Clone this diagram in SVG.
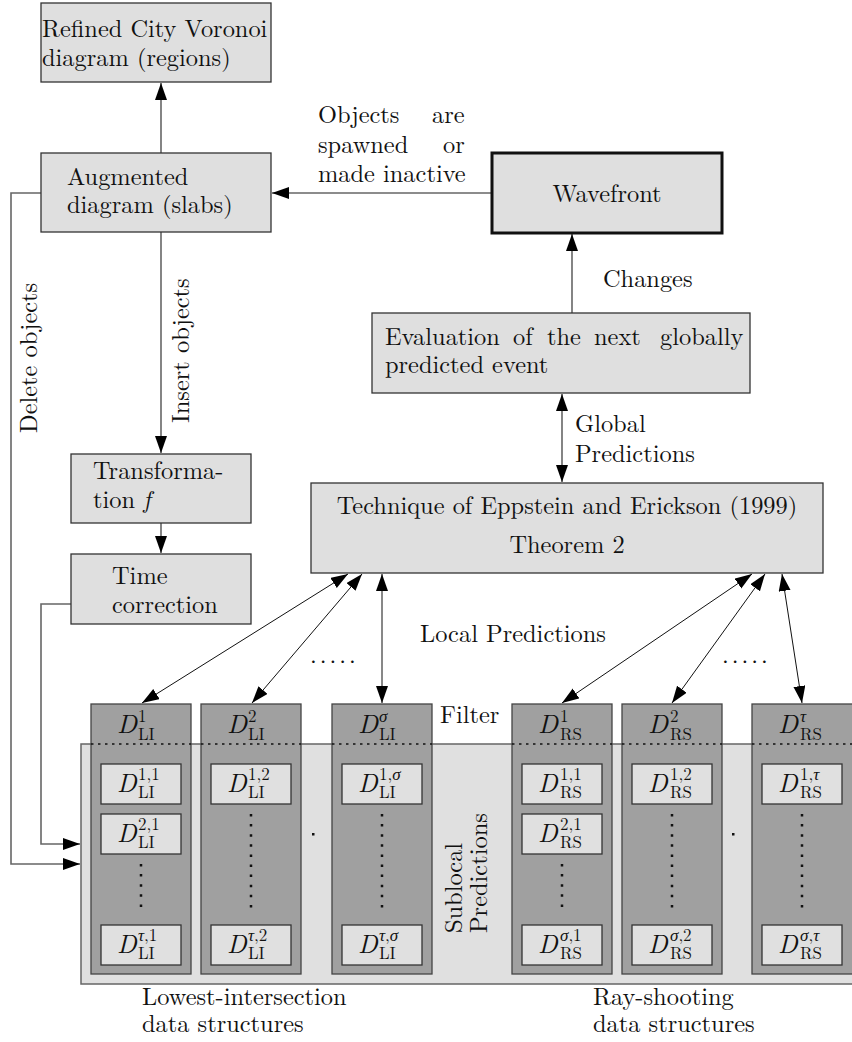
<svg xmlns="http://www.w3.org/2000/svg" width="852" height="1042" viewBox="0 0 852 1042" font-family="'CMU Serif', 'Latin Modern Roman', 'Liberation Serif', 'Times New Roman', Tinos, 'Noto Serif', 'Nimbus Roman', FreeSerif, 'DejaVu Serif', serif">
<defs>
<style>
text{font-family:"CMU Serif","Latin Modern Roman","Liberation Serif","Times New Roman",Tinos,"Noto Serif","Nimbus Roman",FreeSerif,"DejaVu Serif",serif;fill:#111;font-size:24.4px;}
.box{fill:#dfdfdf;stroke:#333;stroke-width:1.3;}
.thick{fill:#dfdfdf;stroke:#111;stroke-width:3;}
.col{fill:#a0a0a0;stroke:#444;stroke-width:1.3;}
.ib{fill:#e0e0e0;stroke:#333;stroke-width:1.3;}
.big{fill:#e0e0e0;stroke:#666;stroke-width:1.5;}
.c{fill:none;stroke:#666;stroke-width:1.6;}
.p{fill:none;stroke:#111;stroke-width:1;}
.dD{font-size:26.5px;font-style:italic;}
.iD{font-size:26px;font-style:italic;}
.s{font-size:17px;}
.g{font-style:italic;}
.vd{stroke:#111;stroke-width:2.5;stroke-dasharray:2.5,7.6;}
.hd{stroke:#111;stroke-width:1.3;stroke-dasharray:2.5,4.5;}
</style>
<marker id="a" markerUnits="userSpaceOnUse" markerWidth="18" markerHeight="13" refX="17" refY="6" orient="auto-start-reverse"><path d="M0,0 L17,6 L0,12 z" fill="#000"/></marker>
</defs>

<g id="connectors">
<path class="c" d="M161,153 V83" marker-end="url(#a)"/>
<path class="c" d="M492,193 H272" marker-end="url(#a)"/>
<path class="c" d="M572,313 V234" marker-end="url(#a)"/>
<path class="c" d="M562,394 V482" marker-start="url(#a)" marker-end="url(#a)"/>
<path class="c" d="M161,232 V453" marker-end="url(#a)"/>
<path class="c" d="M161,523 V553" marker-end="url(#a)"/>
<path class="c" d="M41,193 H11 V864 H80" marker-end="url(#a)"/>
<path class="c" d="M71,604 H41 V844 H80" marker-end="url(#a)"/>
<path class="p" d="M348,574 L142,703" marker-start="url(#a)" marker-end="url(#a)"/>
<path class="p" d="M362,574 L252,703" marker-start="url(#a)" marker-end="url(#a)"/>
<path class="p" d="M382,574 L382,703" marker-start="url(#a)" marker-end="url(#a)"/>
<path class="p" d="M752,574 L562,703" marker-start="url(#a)" marker-end="url(#a)"/>
<path class="p" d="M765,574 L672,703" marker-start="url(#a)" marker-end="url(#a)"/>
<path class="p" d="M782,574 L802,703" marker-start="url(#a)" marker-end="url(#a)"/>
</g>

<g id="refined">
<rect class="box" x="41" y="3" width="230" height="79"/>
<text><tspan x="42" y="37">Refined City Voronoi</tspan><tspan x="42" y="66">diagram (regions)</tspan></text>
</g>

<g id="augmented">
<rect class="box" x="41" y="153" width="230" height="79"/>
<text><tspan x="67" y="185">Augmented</tspan><tspan x="67" y="213">diagram (slabs)</tspan></text>
</g>

<g id="wavefront">
<rect class="thick" x="492" y="153" width="230" height="80"/>
<text x="607" y="202" text-anchor="middle">Wavefront</text>
</g>

<g id="label-spawn">
<text><tspan x="318" y="123">Objects</tspan><tspan x="432" y="123">are</tspan><tspan x="318" y="153">spawned</tspan><tspan x="443" y="153">or</tspan><tspan x="318" y="182">made inactive</tspan></text>
</g>

<g id="label-changes"><text x="603" y="287">Changes</text></g>

<g id="evaluation">
<rect class="box" x="372" y="313" width="378" height="80"/>
<text><tspan x="385" y="345">Evaluation</tspan><tspan x="513">of</tspan><tspan x="547">the</tspan><tspan x="594">next</tspan><tspan x="660">globally</tspan><tspan x="385" y="373">predicted event</tspan></text>
</g>

<g id="label-global">
<text><tspan x="575" y="432">Global</tspan><tspan x="575" y="462">Predictions</tspan></text>
</g>

<g id="technique">
<rect class="box" x="311" y="483" width="512" height="90"/>
<text text-anchor="middle"><tspan x="567" y="514">Technique of Eppstein and Erickson (1999)</tspan><tspan x="567" y="553">Theorem 2</tspan></text>
</g>

<g id="label-delete"><text transform="translate(37,433) rotate(-90)">Delete objects</text></g>
<g id="label-insert"><text transform="translate(189,423) rotate(-90)">Insert objects</text></g>

<g id="transformation">
<rect class="box" x="71" y="454" width="180" height="69"/>
<text><tspan x="93" y="479">Transforma-</tspan><tspan x="93" y="508">tion </tspan><tspan font-style="italic">f</tspan></text>
</g>

<g id="timecorrection">
<rect class="box" x="71" y="554" width="180" height="70"/>
<text><tspan x="112" y="584">Time</tspan><tspan x="112" y="613">correction</tspan></text>
</g>

<g id="label-local">
<text x="420" y="642">Local Predictions</text>
<text x="310" y="663" letter-spacing="3">.....</text>
<text x="722" y="663" letter-spacing="3">.....</text>
</g>

<g id="label-filter"><text x="440" y="723">Filter</text></g>

<g id="datastructures">
<rect class="big" x="81" y="744" width="790" height="240"/>

<g id="li1">
<rect class="col" x="91" y="704" width="100" height="270"/>
<text><tspan class="dD" x="117" y="733">D</tspan><tspan class="s" x="138" y="722">1</tspan><tspan class="s" x="138" y="740">LI</tspan></text>
<rect class="ib" x="101" y="764" width="80" height="40"/>
<text><tspan class="iD" x="117" y="792">D</tspan><tspan class="s" x="138" y="780">1,1</tspan><tspan class="s" x="138" y="798">LI</tspan></text>
<rect class="ib" x="101" y="814" width="80" height="40"/>
<text><tspan class="iD" x="117" y="842">D</tspan><tspan class="s" x="138" y="830">2,1</tspan><tspan class="s" x="138" y="848">LI</tspan></text>
<line class="vd" x1="141" y1="864" x2="141" y2="910"/>
<rect class="ib" x="101" y="925" width="80" height="40"/>
<text><tspan class="iD" x="117" y="953">D</tspan><tspan class="s" x="138" y="941"><tspan class="g">τ</tspan>,1</tspan><tspan class="s" x="138" y="959">LI</tspan></text>
</g>

<g id="li2">
<rect class="col" x="201" y="704" width="100" height="270"/>
<text><tspan class="dD" x="227" y="733">D</tspan><tspan class="s" x="248" y="722">2</tspan><tspan class="s" x="248" y="740">LI</tspan></text>
<rect class="ib" x="211" y="764" width="80" height="40"/>
<text><tspan class="iD" x="227" y="792">D</tspan><tspan class="s" x="248" y="780">1,2</tspan><tspan class="s" x="248" y="798">LI</tspan></text>
<line class="vd" x1="251" y1="814" x2="251" y2="910"/>
<rect class="ib" x="211" y="925" width="80" height="40"/>
<text><tspan class="iD" x="227" y="953">D</tspan><tspan class="s" x="248" y="941"><tspan class="g">τ</tspan>,2</tspan><tspan class="s" x="248" y="959">LI</tspan></text>
</g>

<rect x="312" y="833" width="2.5" height="2.5" fill="#111"/>

<g id="lisigma">
<rect class="col" x="332" y="704" width="100" height="270"/>
<text><tspan class="dD" x="358" y="733">D</tspan><tspan class="s g" x="379" y="722">σ</tspan><tspan class="s" x="379" y="740">LI</tspan></text>
<rect class="ib" x="342" y="764" width="80" height="40"/>
<text><tspan class="iD" x="358" y="792">D</tspan><tspan class="s" x="379" y="780">1,<tspan class="g">σ</tspan></tspan><tspan class="s" x="379" y="798">LI</tspan></text>
<line class="vd" x1="382" y1="814" x2="382" y2="910"/>
<rect class="ib" x="342" y="925" width="80" height="40"/>
<text><tspan class="iD" x="358" y="953">D</tspan><tspan class="s" x="379" y="941"><tspan class="g">τ</tspan>,<tspan class="g">σ</tspan></tspan><tspan class="s" x="379" y="959">LI</tspan></text>
</g>

<g id="rs1">
<rect class="col" x="512" y="704" width="100" height="270"/>
<text><tspan class="dD" x="538" y="733">D</tspan><tspan class="s" x="560" y="722">1</tspan><tspan class="s" x="560" y="740">RS</tspan></text>
<rect class="ib" x="522" y="764" width="80" height="40"/>
<text><tspan class="iD" x="538" y="792">D</tspan><tspan class="s" x="560" y="780">1,1</tspan><tspan class="s" x="560" y="798">RS</tspan></text>
<rect class="ib" x="522" y="814" width="80" height="40"/>
<text><tspan class="iD" x="538" y="842">D</tspan><tspan class="s" x="560" y="830">2,1</tspan><tspan class="s" x="560" y="848">RS</tspan></text>
<line class="vd" x1="562" y1="864" x2="562" y2="910"/>
<rect class="ib" x="522" y="925" width="80" height="40"/>
<text><tspan class="iD" x="538" y="953">D</tspan><tspan class="s" x="560" y="941"><tspan class="g">σ</tspan>,1</tspan><tspan class="s" x="560" y="959">RS</tspan></text>
</g>

<g id="rs2">
<rect class="col" x="622" y="704" width="100" height="270"/>
<text><tspan class="dD" x="648" y="733">D</tspan><tspan class="s" x="670" y="722">2</tspan><tspan class="s" x="670" y="740">RS</tspan></text>
<rect class="ib" x="632" y="764" width="80" height="40"/>
<text><tspan class="iD" x="648" y="792">D</tspan><tspan class="s" x="670" y="780">1,2</tspan><tspan class="s" x="670" y="798">RS</tspan></text>
<line class="vd" x1="672" y1="814" x2="672" y2="910"/>
<rect class="ib" x="632" y="925" width="80" height="40"/>
<text><tspan class="iD" x="648" y="953">D</tspan><tspan class="s" x="670" y="941"><tspan class="g">σ</tspan>,2</tspan><tspan class="s" x="670" y="959">RS</tspan></text>
</g>

<rect x="732" y="833" width="2.5" height="2.5" fill="#111"/>

<g id="rstau">
<rect class="col" x="752" y="704" width="110" height="270"/>
<text><tspan class="dD" x="778" y="733">D</tspan><tspan class="s g" x="800" y="722">τ</tspan><tspan class="s" x="800" y="740">RS</tspan></text>
<rect class="ib" x="762" y="764" width="80" height="40"/>
<text><tspan class="iD" x="778" y="792">D</tspan><tspan class="s" x="800" y="780">1,<tspan class="g">τ</tspan></tspan><tspan class="s" x="800" y="798">RS</tspan></text>
<line class="vd" x1="802" y1="814" x2="802" y2="910"/>
<rect class="ib" x="762" y="925" width="80" height="40"/>
<text><tspan class="iD" x="778" y="953">D</tspan><tspan class="s" x="800" y="941"><tspan class="g">σ</tspan>,<tspan class="g">τ</tspan></tspan><tspan class="s" x="800" y="959">RS</tspan></text>
</g>

<g id="filterline">
<line class="hd" x1="91" y1="744" x2="191" y2="744"/>
<line class="hd" x1="201" y1="744" x2="301" y2="744"/>
<line class="hd" x1="332" y1="744" x2="432" y2="744"/>
<line class="hd" x1="512" y1="744" x2="612" y2="744"/>
<line class="hd" x1="622" y1="744" x2="722" y2="744"/>
<line class="hd" x1="752" y1="744" x2="852" y2="744"/>
</g>

<text transform="translate(462,933) rotate(-90)"><tspan x="0" y="0">Sublocal</tspan><tspan x="0" y="25">Predictions</tspan></text>
</g>

<g id="label-li">
<text><tspan x="142" y="1005">Lowest-intersection</tspan><tspan x="142" y="1032">data structures</tspan></text>
</g>
<g id="label-rs">
<text><tspan x="593" y="1005">Ray-shooting</tspan><tspan x="593" y="1032">data structures</tspan></text>
</g>
</svg>
